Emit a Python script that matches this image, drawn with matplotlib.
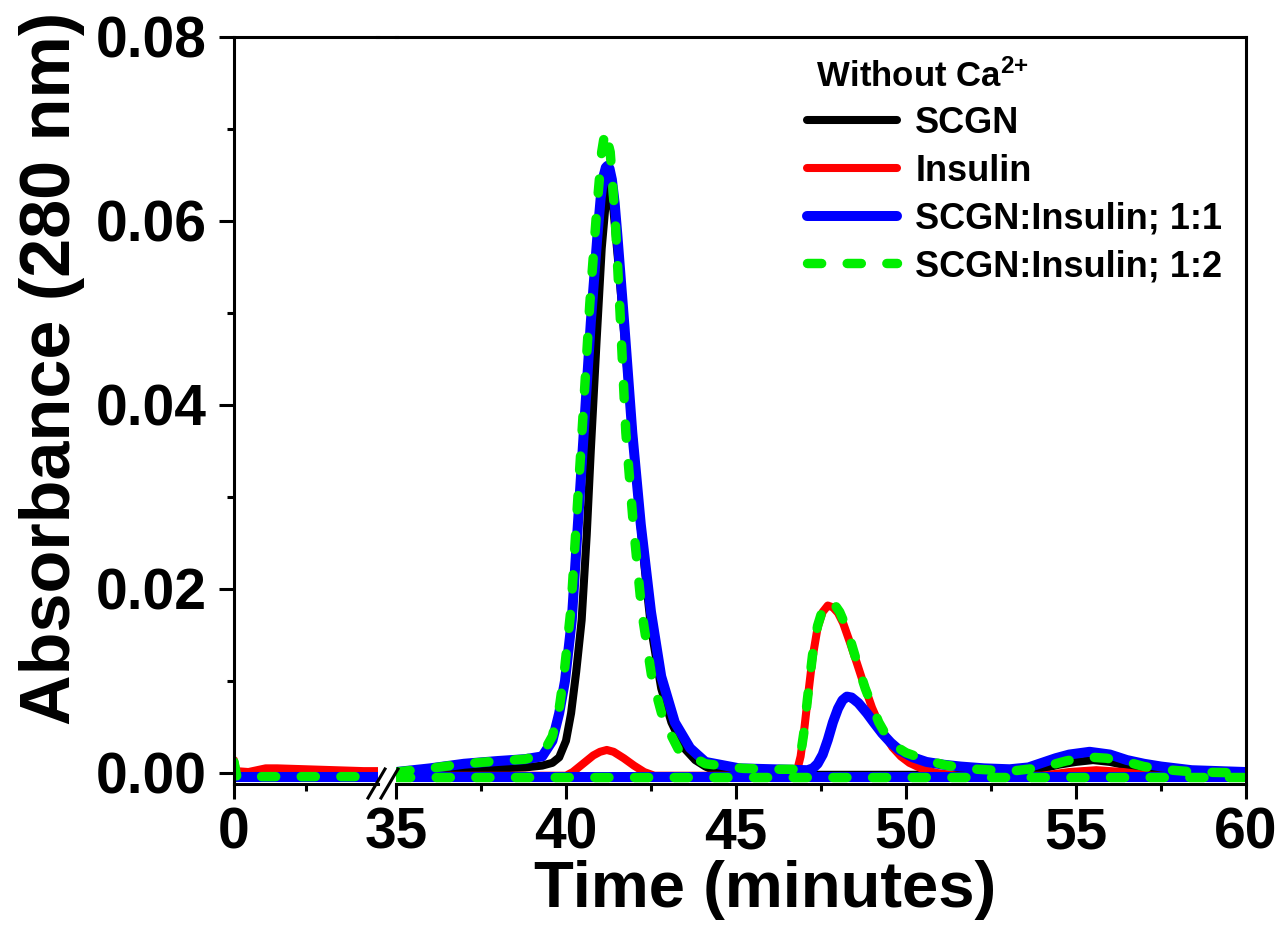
import numpy as np
import matplotlib
matplotlib.use("Agg")
import matplotlib.pyplot as plt
from matplotlib.lines import Line2D
from matplotlib.ticker import FixedLocator, FormatStrFormatter

plt.rcParams['font.family'] = ['Liberation Sans', 'DejaVu Sans']
plt.rcParams['font.weight'] = 'bold'
plt.rcParams['mathtext.fontset'] = 'custom'
plt.rcParams['mathtext.rm'] = 'Liberation Sans:bold'
plt.rcParams['mathtext.bf'] = 'Liberation Sans:bold'
plt.rcParams['mathtext.it'] = 'Liberation Sans:bold'

# ---- data: 0-5 min segment ----
t_early_scgn = [0.0, 5.0]
a_early_scgn = [-0.0003, -0.0003]
t_early_ins = [0.0, 0.08, 0.5, 0.8, 1.1, 1.5, 2.5, 3.5, 4.5, 5.0]
a_early_ins = [0.0014, 0.0002, 0.0001, 0.0003, 0.0005, 0.0005, 0.0004, 0.0003, 0.0002, 0.0002]
t_early_11 = [0.0, 5.0]
a_early_11 = [-0.0004, -0.0004]
t_early_12 = [0.0, 0.1, 5.0]
a_early_12 = [0.0012, -0.0004, -0.0004]

# ---- data: 35-60 min segment ----
t_scgn = [35, 36, 37, 38, 38.8, 39.3, 39.6, 39.8, 40.0, 40.15, 40.3, 40.46, 40.61, 40.73,
          40.9, 41.05, 41.18, 41.25, 41.32, 41.4, 41.55, 41.75, 42.05, 42.25, 42.5, 42.8,
          43.1, 43.45, 43.8, 44.1, 44.4, 44.8, 53.0, 53.8, 54.5, 55.0, 55.5, 56.0, 56.5,
          57.2, 58.0, 60]
a_scgn = [0.0001, 0.0002, 0.0003, 0.0005, 0.0006, 0.0008, 0.0011, 0.0017, 0.0035, 0.0065,
          0.011, 0.0166, 0.0259, 0.0351, 0.047, 0.057, 0.0625, 0.064, 0.0632, 0.061, 0.055,
          0.046, 0.033, 0.0245, 0.0158, 0.0092, 0.0055, 0.0028, 0.0014, 0.0007, 0.0002,
          -0.0002, -0.0002, 0.0003, 0.0009, 0.0012, 0.0014, 0.0012, 0.0008, 0.0002,
          -0.0002, -0.0002]

t_ins = [35, 40.0, 40.2, 40.5, 40.8, 41.0, 41.2, 41.4, 41.7, 42.0, 42.3, 42.6, 46.7, 46.8,
         46.9, 47.0, 47.1, 47.25, 47.4, 47.55, 47.7, 47.85, 48.0, 48.15, 48.35, 48.55, 48.7,
         48.85, 49.0, 49.2, 49.4, 49.6, 49.85, 50.1, 50.5, 50.9, 51.5, 54.0, 54.8, 55.6,
         56.4, 57.2, 60]
a_ins = [-0.0003, -0.0003, 0.0001, 0.0010, 0.0019, 0.0023, 0.0025, 0.0023, 0.0016, 0.0008,
         0.0001, -0.0003, -0.0003, 0.0003, 0.0018, 0.0045, 0.0078, 0.0125, 0.0158, 0.0175,
         0.0182, 0.0180, 0.0174, 0.0163, 0.0142, 0.0120, 0.0103, 0.0087, 0.0071, 0.0054,
         0.0040, 0.0028, 0.0018, 0.0011, 0.0004, 0.0000, -0.0003, -0.0003, 0.0001, 0.0003,
         0.0001, -0.0003, -0.0003]

t_11 = [35, 36, 37, 38, 38.8, 39.3, 39.6, 39.8, 39.97, 40.17, 40.33, 40.49, 40.73, 40.92,
        41.02, 41.1, 41.17, 41.22, 41.28, 41.35, 41.43, 41.51, 41.71, 41.95, 42.2, 42.5,
        42.8, 43.2, 43.65, 44.1, 45.1, 46.1, 47.1, 47.26, 47.4, 47.55, 47.7, 47.85, 48.0,
        48.13, 48.26, 48.4, 48.6, 48.85, 49.05, 49.3, 49.55, 49.8, 50.2, 50.6, 51.1, 51.6,
        52.3, 53.05, 53.6, 54.0, 54.4, 54.8, 55.4, 56.0, 56.5, 57.0, 57.5, 58.4, 60]
a_11 = [0.0001, 0.0005, 0.0010, 0.0013, 0.0015, 0.0018, 0.0035, 0.0065, 0.0100, 0.0166,
        0.0259, 0.0351, 0.0490, 0.0582, 0.0625, 0.0648, 0.0658, 0.0660, 0.0657, 0.0645,
        0.0620, 0.0585, 0.0490, 0.0370, 0.0270, 0.0175, 0.0105, 0.0055, 0.0027, 0.0012,
        0.0005, 0.0004, 0.0003, 0.0005, 0.0010, 0.0020, 0.0036, 0.0055, 0.0070, 0.0079,
        0.0083, 0.0082, 0.0076, 0.0065, 0.0055, 0.0043, 0.0033, 0.0025, 0.0017, 0.0012,
        0.0009, 0.0007, 0.0005, 0.0004, 0.0006, 0.0011, 0.0016, 0.0020, 0.0023, 0.0020,
        0.0014, 0.0010, 0.0007, 0.0003, 0.0001]

t_12 = [35, 36, 37, 38, 38.8, 39.3, 39.6, 39.8, 39.95, 40.15, 40.3, 40.47, 40.7, 40.9,
        41.05, 41.15, 41.3, 41.45, 41.59, 41.76, 41.98, 42.23, 42.52, 42.86, 43.3, 44.1,
        45.2, 46.2, 46.7, 46.8, 46.9, 47.0, 47.1, 47.25, 47.4, 47.55, 47.75, 47.9, 48.05,
        48.2, 48.4, 48.6, 48.8, 49.0, 49.2, 49.4, 49.7, 50.0, 50.3, 50.7, 51.1, 51.6, 52.1,
        53.1, 53.8, 54.3, 54.7, 55.1, 55.5, 55.9, 56.3, 56.7, 57.0, 57.5, 58.5, 60]
a_12 = [0.0001, 0.0005, 0.0010, 0.0013, 0.0015, 0.0020, 0.0040, 0.0070, 0.0110, 0.0180,
        0.0270, 0.0370, 0.0510, 0.0610, 0.0675, 0.0698, 0.0675, 0.0600, 0.0500, 0.0370,
        0.0270, 0.0175, 0.0105, 0.0058, 0.0026, 0.0010, 0.0005, 0.0004, 0.0004, 0.0008,
        0.0020, 0.0045, 0.0080, 0.0128, 0.0160, 0.0178, 0.0187, 0.0183, 0.0175, 0.0162,
        0.0140, 0.0115, 0.0092, 0.0073, 0.0055, 0.0042, 0.0029, 0.0022, 0.0018, 0.0013,
        0.0009, 0.0006, 0.0004, 0.0002, 0.0005, 0.0009, 0.0013, 0.0016, 0.0017, 0.0016,
        0.0013, 0.0010, 0.0007, 0.0004, 0.0001, 0.0]

# flat baseline traces of the two mixtures
t_base = [35, 60]
a_base = [-0.0004, -0.0004]

labels = ['SCGN', 'Insulin', 'SCGN:Insulin; 1:1', 'SCGN:Insulin; 1:2']
colors = ['black', '#ff0000', '#0000ff', '#00ee00']

W, H = 1285, 930
fig = plt.figure(figsize=(W / 100, H / 100), dpi=100)
ax1 = fig.add_axes([234 / W, 146 / H, 144 / W, 747 / H])
ax2 = fig.add_axes([396 / W, 146 / H, 850 / W, 747 / H], sharey=ax1)

lw_k, lw_r, lw_b, lw_g = 5.8, 5.8, 7.2, 6.8
green_dash = dict(dashes=(1.5, 2.7), dash_capstyle='round', solid_capstyle='round')

# 0-5 min
ax1.plot(t_early_scgn, a_early_scgn, color=colors[0], lw=lw_k)
ax1.plot(t_early_ins, a_early_ins, color=colors[1], lw=lw_r, solid_capstyle='round')
ax1.plot(t_early_11, a_early_11, color=colors[2], lw=lw_b)
ax1.plot(t_early_12, a_early_12, color=colors[3], lw=lw_g, **green_dash)

# 35-60 min
h_k, = ax2.plot(t_scgn, a_scgn, color=colors[0], lw=lw_k, solid_capstyle='round')
h_r, = ax2.plot(t_ins, a_ins, color=colors[1], lw=lw_r, solid_capstyle='round')
ax2.plot(t_base, a_base, color=colors[2], lw=lw_b)
h_b, = ax2.plot(t_11, a_11, color=colors[2], lw=lw_b, solid_capstyle='round')
ax2.plot(t_base, a_base, color=colors[3], lw=lw_g, **green_dash)
h_g, = ax2.plot(t_12, a_12, color=colors[3], lw=lw_g, **green_dash)

ax1.set_xlim(0, 5)
ax2.set_xlim(35, 60)
ax1.set_ylim(-0.0012, 0.08)

sw = 2.2
for ax in (ax1, ax2):
    for s in ax.spines.values():
        s.set_linewidth(sw)
    ax.tick_params(which='major', direction='out', length=10.5, width=sw,
                   labelsize=41, pad=6)
    ax.tick_params(which='minor', direction='out', length=5, width=sw)
    ax.tick_params(top=False, right=False, which='both')

ax1.spines['right'].set_visible(False)
ax2.spines['left'].set_visible(False)
ax2.tick_params(axis='y', which='both', left=False, labelleft=False)

ax1.xaxis.set_major_locator(FixedLocator([0]))
ax1.xaxis.set_minor_locator(FixedLocator([2.5]))
ax2.xaxis.set_major_locator(FixedLocator([35, 40, 45, 50, 55, 60]))
ax2.xaxis.set_minor_locator(FixedLocator([37.5, 42.5, 47.5, 52.5, 57.5]))
ax1.yaxis.set_major_locator(FixedLocator([0, 0.02, 0.04, 0.06, 0.08]))
ax1.yaxis.set_minor_locator(FixedLocator([0.01, 0.03, 0.05, 0.07]))
ax1.yaxis.set_major_formatter(FormatStrFormatter('%.2f'))
ax1.tick_params(axis='y', pad=9)

# top frame runs unbroken over the gap
fig.add_artist(Line2D([377 / W, 397 / W], [1 - 37 / H, 1 - 37 / H], color='black',
                      lw=sw, transform=fig.transFigure))
# axis break marks
for x0 in (368, 381):
    fig.add_artist(Line2D([x0 / W, (x0 + 17) / W], [1 - 798 / H, 1 - 769 / H],
                          color='black', lw=2.2, transform=fig.transFigure))

fig.text(765 / W, 1 - 890 / H, 'Time (minutes)', fontsize=47, fontweight='bold',
         ha='center', va='center')
fig.text(52 / W, 1 - 368 / H, 'Absorbance (280 nm)', fontsize=50.5, fontweight='bold',
         ha='center', va='center', rotation=90)

leg = ax2.legend([h_k, h_r, h_b, h_g], labels, loc='upper left',
                 bbox_to_anchor=(807 / W, 1 - 59 / H), bbox_transform=fig.transFigure,
                 frameon=False, borderpad=0, borderaxespad=0,
                 title=r' Without Ca$^{\mathbf{2{+}}}$', alignment='left',
                 prop=dict(weight='bold', size=26),
                 title_fontproperties=dict(weight='bold', size=25),
                 handlelength=2.5, handletextpad=0.5, labelspacing=0.35)

fig.savefig('out.png', dpi=100)
